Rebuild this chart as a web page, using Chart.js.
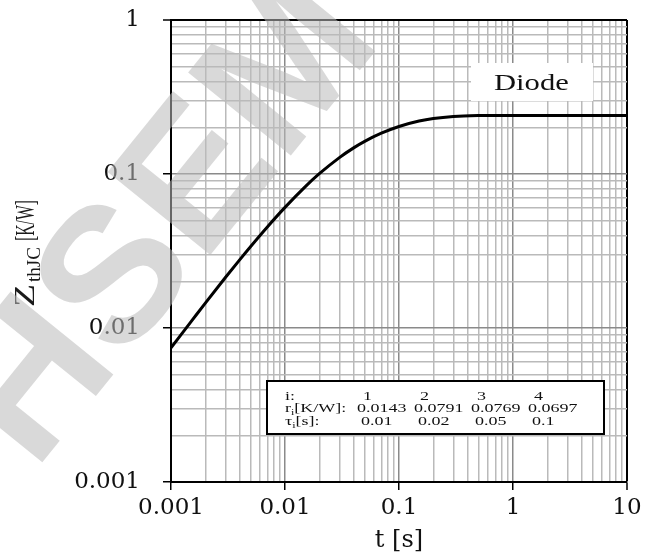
<!DOCTYPE html>
<html><head><meta charset="utf-8">
<script src="https://cdn.jsdelivr.net/npm/chart.js@4.4.1/dist/chart.umd.min.js"></script>
<style>html,body{margin:0;padding:0;background:#fff;}canvas{display:block;}</style>
</head><body>
<canvas id="c" width="655" height="555"></canvas>
<script>
// ---- data ----
const timeS = [0.001, 0.0015, 0.002, 0.003, 0.004, 0.005, 0.007, 0.01, 0.015, 0.02, 0.03, 0.04, 0.05, 0.07, 0.1, 0.15, 0.2, 0.3, 0.5, 0.7, 1, 2, 5, 10];
const zthJC = [0.00744, 0.0110, 0.01452, 0.02127, 0.0277, 0.03384, 0.04531, 0.0607, 0.0825, 0.1004, 0.1278, 0.1478, 0.1629, 0.1840, 0.2034, 0.2206, 0.2292, 0.2363, 0.2395, 0.2399, 0.2400, 0.2400, 0.2400, 0.2400];
const xDecades = [0.001, 0.01, 0.1, 1, 10];
const xTickLabels = ['0.001', '0.01', '0.1', '1', '10'];
const yDecades = [0.001, 0.01, 0.1, 1];
const yTickLabels = ['0.001', '0.01', '0.1', '1'];
const minorSteps = [2, 3, 4, 5, 6, 7, 8, 9];
const xTitle = 't [s]';
const yTitleMain = 'Z';
const yTitleSub = 'thJC';
const yTitleUnit = '[K/W]';
const boxLabel = 'Diode';
const tableIndex = ['1', '2', '3', '4'];
const tableR = ['0.0143', '0.0791', '0.0769', '0.0697'];
const tableTau = ['0.01', '0.02', '0.05', '0.1'];
const watermark = 'HSEM';

function buildTicks(decades) {
  const out = [];
  decades.forEach((d, i) => {
    out.push({ value: d, major: true });
    if (i < decades.length - 1) minorSteps.forEach(m => out.push({ value: d * m, major: false }));
  });
  return out;
}
function labelFor(decades, labels, v) {
  const k = decades.findIndex(d => Math.abs(d - v) / d < 1e-6);
  return k >= 0 ? labels[k] : '';
}
const isEdge = c => c.tick && c.tick.value >= c.scale.max * 0.999;
const gridOpts = {
  color: c => isEdge(c) ? '#000' : (c.tick && c.tick.major ? '#8a8a8a' : '#bababa'),
  lineWidth: c => isEdge(c) ? 2 : 1.5,
  tickColor: c => (c.tick && c.tick.major) ? '#000' : 'rgba(0,0,0,0)',
  tickLength: 8,
  tickWidth: 1.5,
  drawTicks: true
};
const tickFont = { family: '"DejaVu Serif"', size: 23 };

function stretched(ctx, text, x, y, px, sx, family, align) {
  ctx.save();
  ctx.font = px + 'px ' + family;
  ctx.translate(x, y);
  ctx.scale(sx, 1);
  ctx.textAlign = align || 'left';
  ctx.textBaseline = 'alphabetic';
  ctx.fillText(text, 0, 0);
  const w = ctx.measureText(text).width * sx;
  ctx.restore();
  return w;
}

const decor = {
  id: 'decor',
  beforeDraw(chart) {
    const ctx = chart.ctx;
    ctx.save();
    ctx.fillStyle = '#fff';
    ctx.fillRect(0, 0, chart.width, chart.height);
    ctx.restore();
  },
  beforeDatasetsDraw(chart) {
    const ctx = chart.ctx;
    const fam = '"Liberation Serif"';
    ctx.save();
    // Diode label box
    ctx.fillStyle = '#fff';
    ctx.fillRect(471, 63, 122, 38);
    ctx.fillStyle = '#111';
    stretched(ctx, boxLabel, 494, 90, 23, 1.33, fam);
    // parameter table
    ctx.fillStyle = '#fff';
    ctx.fillRect(267, 381, 337, 53);
    ctx.strokeStyle = '#000';
    ctx.lineWidth = 2;
    ctx.strokeRect(267, 381, 337, 53);
    ctx.fillStyle = '#111';
    const sx = 1.5, fs = 12, rows = [400, 412, 425];
    const colX = [357, 414, 471, 528];
    stretched(ctx, 'i:', 285, rows[0], fs, sx, fam);
    let w = stretched(ctx, 'r', 285, rows[1], fs, sx, fam);
    w += stretched(ctx, 'i', 285 + w, rows[1] + 3, 8, sx, fam);
    stretched(ctx, '[K/W]:', 285 + w, rows[1], fs, sx, fam);
    w = stretched(ctx, 'τ', 285, rows[2], fs, sx, fam);
    w += stretched(ctx, 'i', 285 + w, rows[2] + 3, 8, sx, fam);
    stretched(ctx, '[s]:', 285 + w, rows[2], fs, sx, fam);
    colX.forEach((x, i) => {
      stretched(ctx, tableIndex[i], x + 6, rows[0], fs, sx, fam);
      stretched(ctx, tableR[i], x, rows[1], fs, sx, fam);
      stretched(ctx, tableTau[i], x + 4, rows[2], fs, sx, fam);
    });
    ctx.restore();
  },
  afterDraw(chart) {
    const ctx = chart.ctx;
    const fam = '"Liberation Serif"';
    // rotated y-axis title with subscript
    ctx.save();
    ctx.translate(34, 307);
    ctx.rotate(-Math.PI / 2);
    ctx.fillStyle = '#1a1a1a';
    const fit = (text, px, v, u0, len) => {
      ctx.save();
      ctx.font = px + 'px ' + fam;
      const nat = ctx.measureText(text).width;
      ctx.translate(u0, v);
      ctx.scale(len / nat, 1);
      ctx.fillText(text, 0, 0);
      ctx.restore();
    };
    fit(yTitleMain, 30, 0, 0, 23);
    fit(yTitleSub, 18, 6, 25, 35);
    fit(yTitleUnit, 28, 0, 66, 41);
    ctx.restore();
    // watermark overlay
    ctx.save();
    ctx.translate(156, 214);
    ctx.rotate(-51 * Math.PI / 180);
    ctx.font = 'bold 192px "Liberation Sans"';
    ctx.textAlign = 'center';
    ctx.textBaseline = 'alphabetic';
    ctx.fillStyle = 'rgba(185,185,185,0.55)';
    ctx.fillText(watermark, 0, 68);
    ctx.restore();
  }
};

new Chart(document.getElementById('c'), {
  type: 'line',
  data: {
    datasets: [{
      data: timeS.map((t, i) => ({ x: t, y: zthJC[i] })),
      borderColor: '#000',
      borderWidth: 3,
      pointRadius: 0,
      fill: false,
      cubicInterpolationMode: 'monotone'
    }]
  },
  options: {
    responsive: false,
    animation: false,
    devicePixelRatio: 1,
    layout: { padding: { left: 0, right: 28, top: 20, bottom: 0 } },
    plugins: { legend: { display: false }, tooltip: { enabled: false } },
    scales: {
      x: {
        type: 'logarithmic',
        position: 'bottom',
        min: 0.001, max: 10,
        afterBuildTicks: s => { s.ticks = buildTicks(xDecades); },
        afterFit: s => { s.height = 73; s.paddingLeft = 0; s.paddingRight = 0; },
        grid: gridOpts,
        border: { display: true, color: '#000', width: 2 },
        ticks: {
          autoSkip: false, maxRotation: 0, minRotation: 0, padding: 4,
          color: '#111', font: tickFont,
          callback: v => labelFor(xDecades, xTickLabels, v)
        },
        title: { display: true, text: xTitle, color: '#111', font: { family: '"DejaVu Serif"', size: 24 }, padding: { top: 0, bottom: 0 } }
      },
      y: {
        type: 'logarithmic',
        position: 'left',
        min: 0.001, max: 1,
        afterBuildTicks: s => { s.ticks = buildTicks(yDecades); },
        afterFit: s => { s.width = 171; s.paddingTop = 0; s.paddingBottom = 0; },
        grid: gridOpts,
        border: { display: true, color: '#000', width: 2 },
        ticks: {
          autoSkip: false, padding: 23,
          color: '#111', font: tickFont,
          callback: v => labelFor(yDecades, yTickLabels, v)
        }
      }
    }
  },
  plugins: [decor]
});
</script>
</body></html>
